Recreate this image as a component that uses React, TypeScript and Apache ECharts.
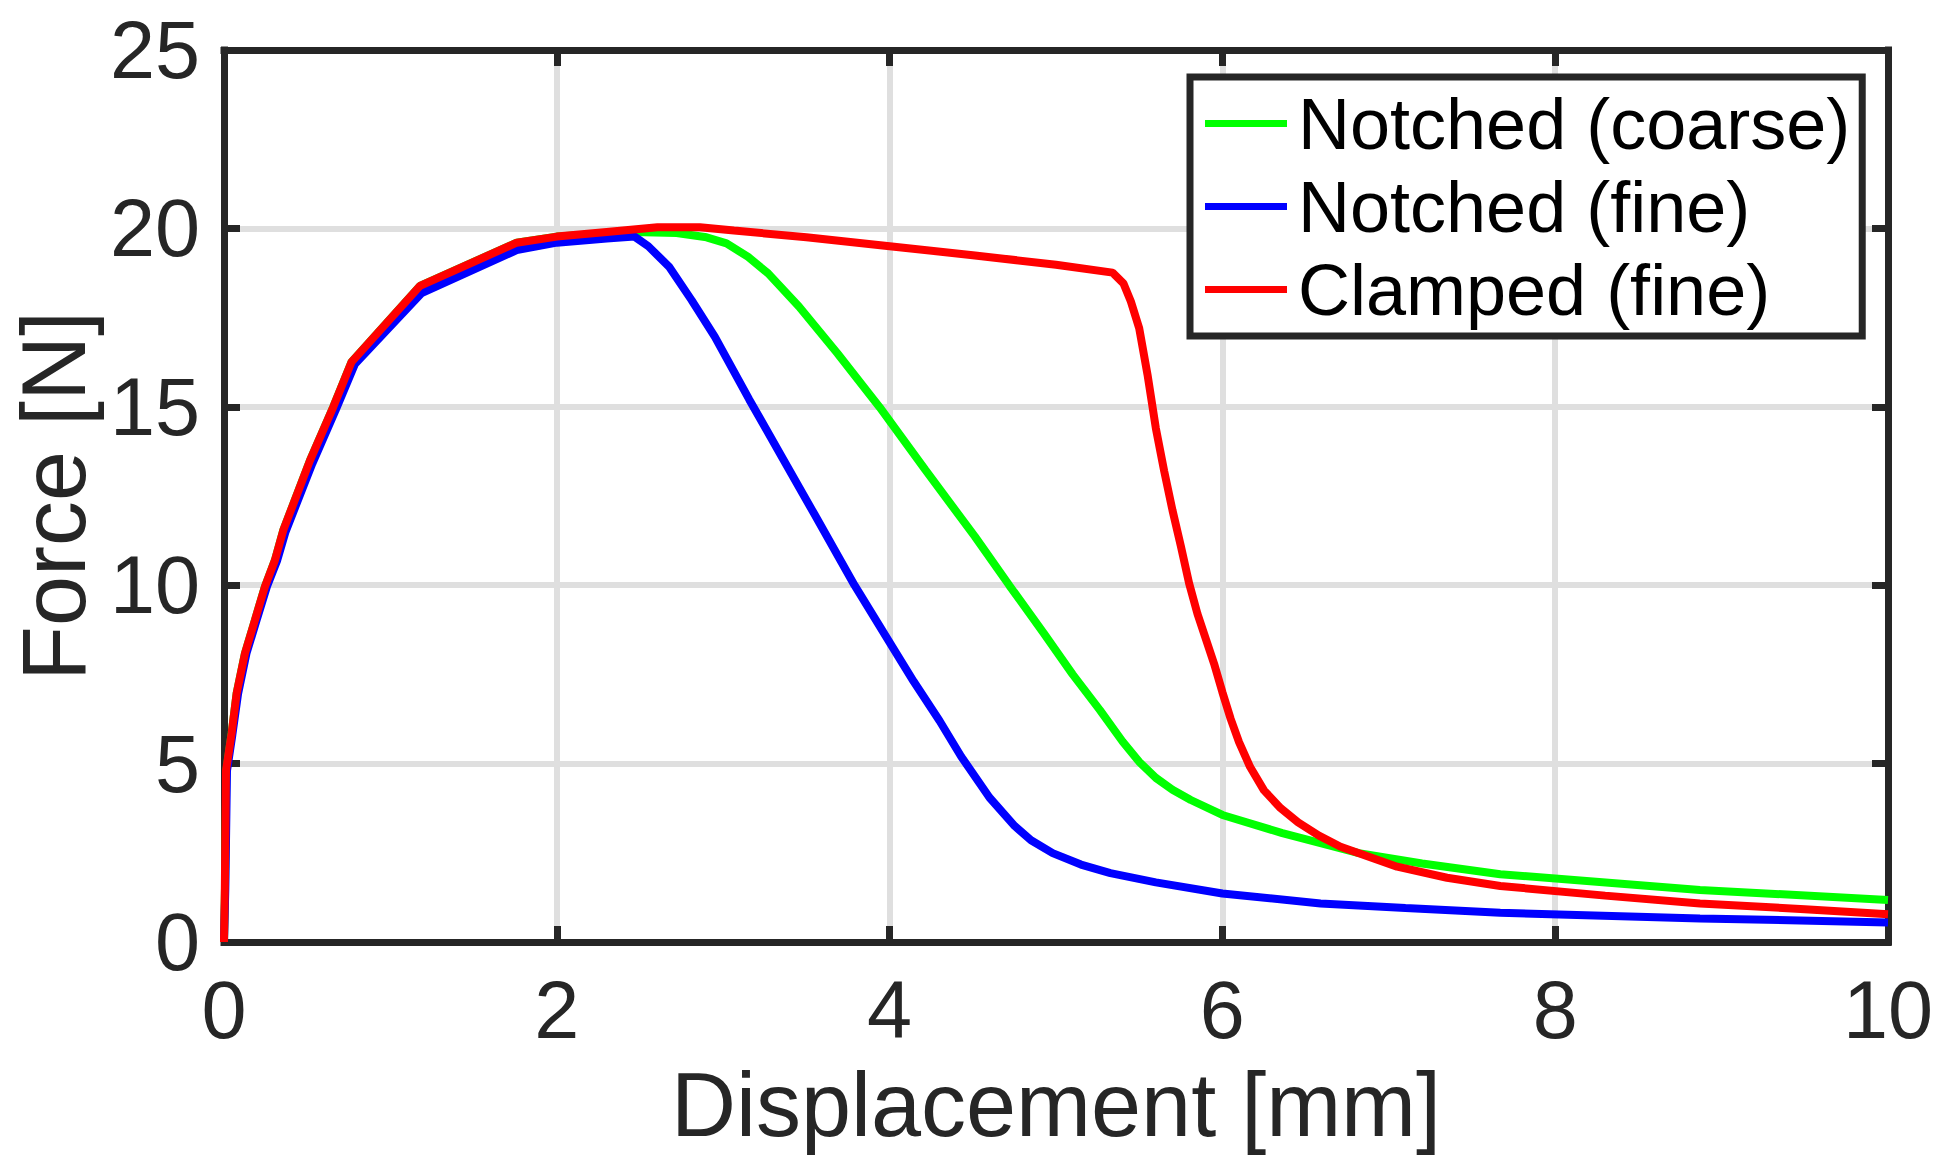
import React, { useEffect, useRef } from "react";
import * as echarts from "echarts";

const xTicks = [0, 2, 4, 6, 8, 10];
const yTicks = [0, 5, 10, 15, 20, 25];
const seriesNames = ["Notched (coarse)", "Notched (fine)", "Clamped (fine)"];
const seriesColors = ["#00ff00", "#0000ff", "#ff0000"];

const notchedCoarse: [number, number][] = [
  [0, 0], [0.006, 1.5], [0.014, 4.8], [0.046, 5.85], [0.076, 6.97], [0.126, 8.09],
  [0.186, 9.02], [0.246, 9.96], [0.306, 10.7], [0.357, 11.55], [0.517, 13.5],
  [0.657, 15.0], [0.767, 16.26], [1.178, 18.39], [1.759, 19.6], [2.0, 19.77],
  [2.46, 19.9], [2.72, 19.87], [2.9, 19.75], [3.02, 19.58], [3.15, 19.2],
  [3.27, 18.74], [3.455, 17.81], [3.686, 16.5], [3.94, 14.99], [4.215, 13.23],
  [4.513, 11.36], [4.72, 9.99], [4.927, 8.65], [5.1, 7.5], [5.264, 6.5],
  [5.4, 5.62], [5.5, 5.05], [5.6, 4.6], [5.7, 4.27], [5.81, 3.98], [6.0, 3.56],
  [6.36, 3.05], [6.82, 2.49], [7.2, 2.2], [7.67, 1.9], [8.87, 1.46], [10, 1.18],
];

const notchedFine: [number, number][] = [
  [0, 0], [0.008, 1.5], [0.018, 4.8], [0.05, 5.8], [0.085, 6.97], [0.135, 8.09],
  [0.196, 9.02], [0.258, 9.96], [0.32, 10.7], [0.37, 11.5], [0.53, 13.4],
  [0.67, 14.9], [0.787, 16.2], [1.188, 18.19], [1.759, 19.39], [2.0, 19.6],
  [2.3, 19.72], [2.467, 19.77], [2.55, 19.5], [2.674, 18.93], [2.81, 17.99],
  [2.95, 16.96], [3.157, 15.2], [3.34, 13.7], [3.547, 12.0], [3.789, 10.0],
  [4.0, 8.4], [4.145, 7.3], [4.3, 6.2], [4.43, 5.2], [4.6, 4.05], [4.752, 3.25],
  [4.85, 2.85], [4.98, 2.49], [5.15, 2.17], [5.327, 1.93], [5.6, 1.67],
  [6.0, 1.36], [6.59, 1.08], [7.1, 0.95], [7.67, 0.82], [8.87, 0.66], [10, 0.55],
];

const clampedFine: [number, number][] = [
  [0, 0], [0.005, 1.5], [0.012, 4.8], [0.046, 5.85], [0.076, 6.97], [0.126, 8.09],
  [0.186, 9.02], [0.246, 9.96], [0.306, 10.7], [0.357, 11.55], [0.517, 13.5],
  [0.657, 15.0], [0.767, 16.26], [1.178, 18.39], [1.759, 19.6], [2.0, 19.77],
  [2.3, 19.9], [2.605, 20.03], [2.86, 20.03], [3.065, 19.94], [3.5, 19.75],
  [4.0, 19.5], [4.5, 19.25], [5.0, 18.98], [5.34, 18.76], [5.405, 18.46],
  [5.45, 17.95], [5.5, 17.2], [5.55, 15.9], [5.6, 14.4], [5.65, 13.2],
  [5.7, 12.1], [5.75, 11.1], [5.8, 10.05], [5.85, 9.2], [5.9, 8.5], [5.95, 7.8],
  [6.0, 7.0], [6.05, 6.25], [6.1, 5.6], [6.166, 4.91], [6.25, 4.25], [6.35, 3.75],
  [6.455, 3.35], [6.58, 2.98], [6.71, 2.67], [7.05, 2.11], [7.35, 1.8],
  [7.67, 1.57], [8.3, 1.3], [8.87, 1.08], [9.5, 0.92], [10, 0.78],
];

const FONT = "'Liberation Sans', Arial, Helvetica, sans-serif";
const AXIS = "#262626";

export default function App() {
  const ref = useRef<HTMLDivElement>(null);
  useEffect(() => {
    if (!ref.current) return;
    const chart = echarts.init(ref.current, null, { renderer: "svg" });
    const tickCommon = {
      show: true,
      inside: true,
      length: 16,
      lineStyle: { color: AXIS, width: 7 },
    };
    const lineCommon = {
      show: true,
      onZero: false,
      lineStyle: { color: AXIS, width: 7, cap: "square" },
    };
    const datasets = [notchedCoarse, notchedFine, clampedFine];
    chart.setOption({
      animation: false,
      backgroundColor: "#ffffff",
      textStyle: { fontFamily: FONT },
      grid: {
        left: 224,
        right: 54,
        top: 50,
        bottom: 233,
        containLabel: false,
        outerBoundsMode: "none",
      },
      legend: {
        orient: "vertical",
        left: 1190,
        top: 77,
        padding: [5, 12, 5, 15],
        itemGap: 0,
        itemWidth: 82,
        itemHeight: 7,
        icon: "rect",
        selectedMode: false,
        backgroundColor: "#ffffff",
        borderColor: AXIS,
        borderWidth: 7,
        borderRadius: 0,
        data: seriesNames,
        textStyle: {
          fontFamily: FONT,
          fontSize: 72,
          color: "#000000",
          lineHeight: 83,
          padding: [0, 0, 0, 6],
        },
      },
      xAxis: [
        {
          type: "value",
          position: "bottom",
          min: xTicks[0],
          max: xTicks[xTicks.length - 1],
          interval: 2,
          name: "Displacement [mm]",
          nameLocation: "middle",
          nameGap: 118,
          nameTextStyle: { fontFamily: FONT, fontSize: 90, color: AXIS },
          axisLine: lineCommon,
          axisTick: tickCommon,
          axisLabel: {
            fontFamily: FONT,
            fontSize: 81,
            color: AXIS,
            margin: 27,
          },
          splitLine: { show: true, lineStyle: { color: "#dfdfdf", width: 6 } },
        },
        {
          type: "value",
          position: "top",
          min: xTicks[0],
          max: xTicks[xTicks.length - 1],
          interval: 2,
          axisLine: lineCommon,
          axisTick: tickCommon,
          axisLabel: { show: false },
          splitLine: { show: false },
        },
      ],
      yAxis: [
        {
          type: "value",
          position: "left",
          min: yTicks[0],
          max: yTicks[yTicks.length - 1],
          interval: 5,
          name: "Force [N]",
          nameLocation: "middle",
          nameGap: 123,
          nameTextStyle: { fontFamily: FONT, fontSize: 90, color: AXIS },
          axisLine: lineCommon,
          axisTick: tickCommon,
          axisLabel: {
            fontFamily: FONT,
            fontSize: 81,
            color: AXIS,
            margin: 24,
          },
          splitLine: { show: true, lineStyle: { color: "#dfdfdf", width: 6 } },
        },
        {
          type: "value",
          position: "right",
          min: yTicks[0],
          max: yTicks[yTicks.length - 1],
          interval: 5,
          axisLine: lineCommon,
          axisTick: tickCommon,
          axisLabel: { show: false },
          splitLine: { show: false },
        },
      ],
      series: datasets.map((d, i) => ({
        name: seriesNames[i],
        type: "line",
        xAxisIndex: 0,
        yAxisIndex: 0,
        data: d,
        symbol: "none",
        showSymbol: false,
        smooth: false,
        color: seriesColors[i],
        lineStyle: { color: seriesColors[i], width: 8 },
      })),
    });
    return () => chart.dispose();
  }, []);
  return (
    <div
      ref={ref}
      style={{ position: "fixed", left: 0, top: 0, width: 1942, height: 1175 }}
    />
  );
}
